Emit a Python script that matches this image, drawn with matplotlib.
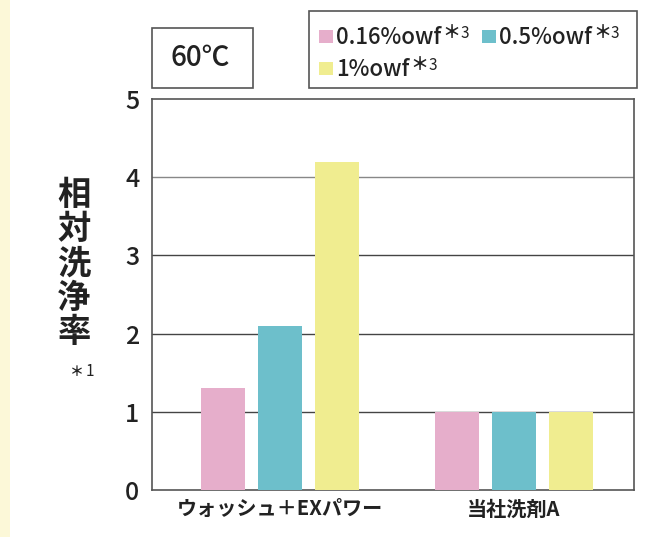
import matplotlib

matplotlib.use("Agg")

import matplotlib.pyplot as plt  # noqa: E402
import numpy as np  # noqa: E402
from matplotlib.patches import Rectangle  # noqa: E402

plt.rcParams["font.family"] = ["Noto Sans CJK JP", "DejaVu Sans"]

# --------------------------------------------------------------------------- #
# Data
# --------------------------------------------------------------------------- #
PRODUCTS = ["ウォッシュ＋EXパワー", "当社洗剤A"]
SERIES = ["0.16%owf", "0.5%owf", "1%owf"]
VALUES_016 = [1.3, 1.0]
VALUES_05 = [2.1, 1.0]
VALUES_1 = [4.2, 1.0]
Y_TICKS = [0, 1, 2, 3, 4, 5]
YLABEL_CHARS = list("相対洗浄率")

COLORS = ["#e6aecb", "#6dbfcb", "#f0ed90"]
TEXT = "#222222"
W, H = 667, 537


def fx(px):
    return px / W


def fy(py):
    return 1 - py / H


fig = plt.figure(figsize=(W / 100, H / 100), dpi=100)

# pale strip on the left edge
fig.patches.append(Rectangle((0, 0), fx(10), 1, transform=fig.transFigure,
                             facecolor="#fcf8d8", edgecolor="none"))

ax = fig.add_axes([fx(152), fy(490), fx(634) - fx(152), fy(99) - fy(490)])

x = np.arange(len(PRODUCTS))
offset = 0.242
width = 0.188
for i, vals in enumerate([VALUES_016, VALUES_05, VALUES_1]):
    ax.bar(x + (i - 1) * offset, vals, width, color=COLORS[i], zorder=3)

ax.set_xlim(-0.547, 1.513)
ax.set_ylim(0, 5)
ax.set_yticks(Y_TICKS)
ax.set_yticklabels([str(t) for t in Y_TICKS], fontsize=18, fontweight="medium")
ax.set_xticks(x)
ax.set_xticklabels(PRODUCTS, fontsize=14.5, fontweight="bold")
ax.tick_params(axis="both", length=0, colors=TEXT)
ax.tick_params(axis="y", pad=9)
ax.tick_params(axis="x", pad=6)
for t in Y_TICKS[1:-1]:
    ax.axhline(t, color="#444444" if t < 4 else "#888888", linewidth=1.0, zorder=1)
for s in ax.spines.values():
    s.set_color("#555555")
    s.set_linewidth(1.2)

# vertical y label
for k, ch in enumerate(YLABEL_CHARS):
    fig.text(fx(74), fy(195 + k * 34.4), ch, fontsize=24, fontweight="bold",
             ha="center", va="center", color=TEXT)
fig.text(fx(77), fy(372), "＊", fontsize=10, fontweight="bold", ha="center",
         va="center", color=TEXT)
fig.text(fx(90), fy(371), "1", fontsize=11, ha="center", va="center", color=TEXT)

# temperature box
fig.patches.append(Rectangle((fx(152), fy(88)), fx(253) - fx(152), fy(28) - fy(88),
                             transform=fig.transFigure, facecolor="white",
                             edgecolor="#555555", linewidth=1.2))
fig.text(fx(200), fy(58), "60℃", fontsize=20, fontweight="medium", ha="center",
         va="center", color=TEXT)

# legend box
fig.patches.append(Rectangle((fx(309), fy(88)), fx(637) - fx(309), fy(11) - fy(88),
                             transform=fig.transFigure, facecolor="white",
                             edgecolor="#555555", linewidth=1.2))
legend_pos = [(319, 30), (482, 30), (319, 62)]
for (lx, ly), name, col in zip(legend_pos, SERIES, COLORS):
    fig.patches.append(Rectangle((fx(lx), fy(ly + 13)), fx(14), 13 / H,
                                 transform=fig.transFigure, facecolor=col,
                                 edgecolor="none"))
    t = fig.text(fx(lx + 17), fy(ly + 14), name, fontsize=16, fontweight="medium",
                 ha="left", va="baseline", color=TEXT)
    fig.canvas.draw()
    bb = t.get_window_extent()
    star = fig.text(bb.x1 / W + fx(1), fy(ly + 3), "＊", fontsize=13,
                    fontweight="bold", ha="left", va="center", color=TEXT)
    fig.canvas.draw()
    sb = star.get_window_extent()
    fig.text(sb.x1 / W, fy(ly + 8), "3", fontsize=11, ha="left",
             va="baseline", color=TEXT)

fig.savefig("out.png", dpi=100, facecolor="white")
